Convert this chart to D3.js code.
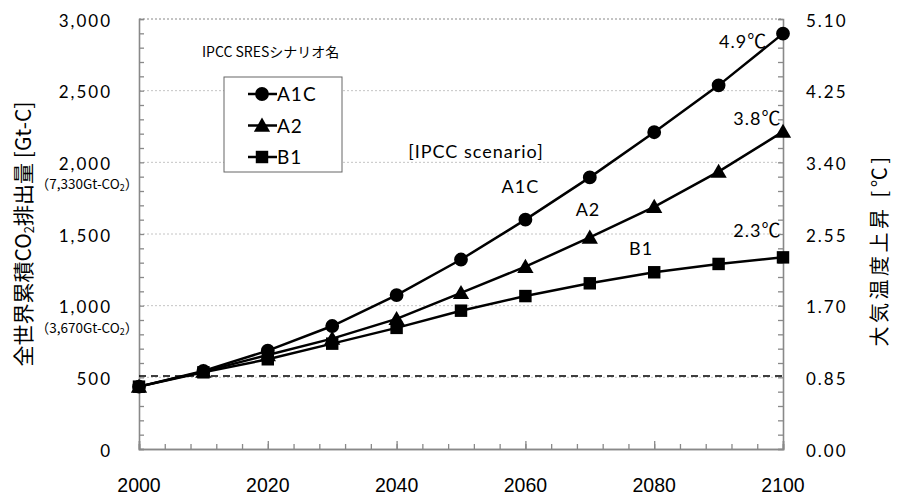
<!DOCTYPE html>
<html>
<head>
<meta charset="utf-8">
<script src="https://cdn.jsdelivr.net/npm/d3@7"></script>
<style>
    body { margin: 0; background: #fff; }
    .tickLabel { font-family: Lato, "Open Sans", sans-serif; font-size: 17px; letter-spacing: 2px; fill: #000; }
    .xLabel { font-family: "Liberation Sans", Arial, sans-serif; font-size: 19.5px; fill: #000; }
    .note { font-family: Lato, "Open Sans", sans-serif; font-size: 18px; letter-spacing: 1px; fill: #000; }
    .jp { font-family: "Noto Sans CJK JP", sans-serif; fill: #000; }
</style>
</head>
<body>
<script>
//data arrays
var years = [2000, 2010, 2020, 2030, 2040, 2050, 2060, 2070, 2080, 2090, 2100];
var seriesNames = ["A1C", "A2", "B1"];
var seriesSymbols = ["circle", "triangle", "square"];
var a1c = [435, 545, 686, 858, 1074, 1322, 1600, 1895, 2210, 2537, 2898];
var a2 = [435, 540, 656, 770, 908, 1089, 1272, 1476, 1690, 1935, 2214];
var b1 = [435, 535, 626, 735, 845, 965, 1067, 1156, 1233, 1291, 1337];
var leftTicks = [0, 500, 1000, 1500, 2000, 2500, 3000];
var rightTicks = [0, 0.85, 1.70, 2.55, 3.40, 4.25, 5.10];
var xTicks = [2000, 2020, 2040, 2060, 2080, 2100];
var refLine = 510; //dashed line level [Gt-C]
var subLabels = [
    {value: 2000, text: "7,330"},
    {value: 1000, text: "3,670"}
];
//annotations in data units (year, Gt-C)
var notes = [
    {text: "[IPCC scenario]", year: 2041.8, value: 2030, anchor: "start", deg: false},
    {text: "A1C", year: 2056.3, value: 1788, anchor: "start", deg: false},
    {text: "A2", year: 2067.8, value: 1626, anchor: "start", deg: false},
    {text: "B1", year: 2076.1, value: 1353, anchor: "start", deg: false},
    {text: "4.9", year: 2097.4, value: 2798, anchor: "end", deg: true},
    {text: "3.8", year: 2099.6, value: 2260, anchor: "end", deg: true},
    {text: "2.3", year: 2099.6, value: 1479, anchor: "end", deg: true}
];

window.onload = function(){

    //SVG dimensions
    var w = 898,
        h = 497;

    var svg = d3.select("body")
        .append("svg")
        .attr("width", w)
        .attr("height", h);

    //plot area edges
    var left = 139, right = 783, top = 19, bottom = 449;

    var x = d3.scaleLinear()
        .domain([2000, 2100])
        .range([left, right]);

    var y = d3.scaleLinear()
        .domain([0, 3000])
        .range([bottom, top]);

    var y2 = d3.scaleLinear()
        .domain([0, 5.1])
        .range([bottom, top]);

    //gridlines
    svg.selectAll(".grid")
        .data(leftTicks.filter(function(d){ return d > 0; }))
        .enter()
        .append("line")
        .attr("class", "grid")
        .attr("x1", left)
        .attr("x2", right)
        .attr("y1", function(d){ return y(d); })
        .attr("y2", function(d){ return y(d); })
        .style("stroke", function(d){ return d == 3000 ? "#888" : "#c4c4c4"; })
        .style("stroke-width", 1)
        .style("stroke-dasharray", "2,2");

    //minor ticks, left
    svg.append("g")
        .attr("class", "axis")
        .attr("transform", "translate(" + left + ",0)")
        .call(d3.axisLeft(y).tickValues(d3.range(0, 3001, 100)).tickSize(-5).tickFormat(""));

    //minor ticks, right
    svg.append("g")
        .attr("class", "axis")
        .attr("transform", "translate(" + right + ",0)")
        .call(d3.axisRight(y2).tickValues(d3.range(0, 31).map(function(i){ return i * 0.17; })).tickSize(-5).tickFormat(""));

    //x ticks (minor every 4 years, major every 20)
    svg.append("g")
        .attr("class", "axis")
        .attr("transform", "translate(0," + bottom + ")")
        .call(d3.axisBottom(x).tickValues(d3.range(2000, 2101, 4)).tickSize(-5).tickFormat(""));
    svg.append("g")
        .attr("class", "axis")
        .attr("transform", "translate(0," + bottom + ")")
        .call(d3.axisBottom(x).tickValues(xTicks).tickSize(-8).tickFormat(""));

    svg.selectAll(".axis path, .axis line")
        .style("stroke", "#898989")
        .style("stroke-width", 1.3);
    svg.selectAll(".axis path").style("stroke-width", 1.6);

    //left labels
    var fmt = d3.format(",");
    svg.selectAll(".leftLabel")
        .data(leftTicks)
        .enter()
        .append("text")
        .attr("class", "tickLabel")
        .attr("text-anchor", "end")
        .attr("x", left - 27)
        .attr("y", function(d){ return y(d) + 7.5; })
        .text(function(d){ return fmt(d); });

    //right labels
    svg.selectAll(".rightLabel")
        .data(rightTicks)
        .enter()
        .append("text")
        .attr("class", "tickLabel")
        .attr("x", right + 23)
        .attr("y", function(d){ return y2(d) + 7.5; })
        .text(function(d){ return d.toFixed(2); });

    //x labels
    svg.selectAll(".xLabel")
        .data(xTicks)
        .enter()
        .append("text")
        .attr("class", "xLabel")
        .attr("text-anchor", "middle")
        .attr("x", function(d){ return x(d); })
        .attr("y", 491.5)
        .text(function(d){ return d; });

    //CO2 equivalents under left labels
    var sub = svg.selectAll(".subLabel")
        .data(subLabels)
        .enter()
        .append("text")
        .attr("class", "jp")
        .attr("text-anchor", "middle")
        .attr("x", 87)
        .attr("y", function(d){ return y(d.value) + 27; })
        .style("font-size", "13.5px");
    sub.append("tspan").text(function(d){ return "（" + d.text + "Gt-CO"; });
    sub.append("tspan").attr("baseline-shift", "-25%").style("font-size", "9px").text("2");
    sub.append("tspan").text("）");

    //axis titles
    var yTitle = svg.append("text")
        .attr("class", "jp")
        .attr("text-anchor", "middle")
        .attr("transform", "translate(31," + ((top + bottom) / 2) + ") rotate(-90)")
        .style("font-size", "21px");
    yTitle.append("tspan").text("全世界累積CO");
    yTitle.append("tspan").attr("baseline-shift", "-25%").style("font-size", "13px").text("2");
    yTitle.append("tspan").text("排出量 [Gt-C]");

    svg.append("text")
        .attr("class", "jp")
        .attr("text-anchor", "middle")
        .attr("transform", "translate(887," + ((top + bottom) / 2 + 16) + ") rotate(-90)")
        .style("font-size", "20px")
        .style("letter-spacing", "3.5px")
        .text("大気温度上昇 [℃]");

    //dashed reference line
    svg.append("line")
        .attr("x1", left)
        .attr("x2", right)
        .attr("y1", y(refLine))
        .attr("y2", y(refLine))
        .style("stroke", "#000")
        .style("stroke-width", 1.5)
        .style("stroke-dasharray", "7,5");

    //series lines and markers
    var series = [a1c, a2, b1];
    var symbolTypes = {circle: d3.symbolCircle, triangle: d3.symbolTriangle, square: d3.symbolSquare};
    var symbolSizes = {circle: 150, triangle: 115, square: 155};

    var line = d3.line()
        .x(function(d, i){ return x(years[i]); })
        .y(function(d){ return y(d); });

    series.forEach(function(vals, k){
        svg.append("path")
            .datum(vals)
            .attr("d", line)
            .style("fill", "none")
            .style("stroke", "#000")
            .style("stroke-width", 2.5);
    });

    series.forEach(function(vals, k){
        var sym = seriesSymbols[k];
        svg.selectAll(".marker" + k)
            .data(vals)
            .enter()
            .append("path")
            .attr("class", "marker" + k)
            .attr("d", d3.symbol().type(symbolTypes[sym]).size(symbolSizes[sym]))
            .attr("transform", function(d, i){
                return "translate(" + x(years[i]) + "," + (y(d) + (sym == "triangle" ? 1.5 : 0)) + ")";
            })
            .style("fill", "#000");
    });

    //annotations
    var noteText = svg.selectAll(".note")
        .data(notes)
        .enter()
        .append("text")
        .attr("class", "note")
        .attr("text-anchor", function(d){ return d.anchor; })
        .attr("x", function(d){ return x(d.year); })
        .attr("y", function(d){ return y(d.value); });
    noteText.append("tspan").text(function(d){ return d.text; });
    noteText.filter(function(d){ return d.deg; })
        .append("tspan")
        .attr("class", "jp")
        .style("font-size", "19px")
        .style("letter-spacing", "0px")
        .text("℃");

    //legend title
    svg.append("text")
        .attr("class", "jp")
        .attr("x", 202)
        .attr("y", 57)
        .style("font-size", "14px")
        .text("IPCC SRESシナリオ名");

    //legend box
    var legend = svg.append("g")
        .attr("transform", "translate(224,77)");
    legend.append("rect")
        .attr("width", 118)
        .attr("height", 95)
        .style("fill", "#fff")
        .style("stroke", "#666")
        .style("stroke-width", 1);

    var rows = legend.selectAll(".row")
        .data(seriesNames)
        .enter()
        .append("g")
        .attr("transform", function(d, i){ return "translate(0," + (17 + i * 31.5) + ")"; });
    rows.append("line")
        .attr("x1", 24)
        .attr("x2", 53)
        .style("stroke", "#000")
        .style("stroke-width", 2.5);
    rows.append("path")
        .attr("d", function(d, i){
            var sym = seriesSymbols[i];
            return d3.symbol().type(symbolTypes[sym]).size(symbolSizes[sym])();
        })
        .attr("transform", function(d, i){ return "translate(38," + (seriesSymbols[i] == "triangle" ? 1.5 : 0) + ")"; })
        .style("fill", "#000");
    rows.append("text")
        .attr("class", "note")
        .attr("x", 53)
        .attr("y", 7)
        .style("font-size", "19px")
        .text(function(d){ return d; });
};
</script>
</body>
</html>
